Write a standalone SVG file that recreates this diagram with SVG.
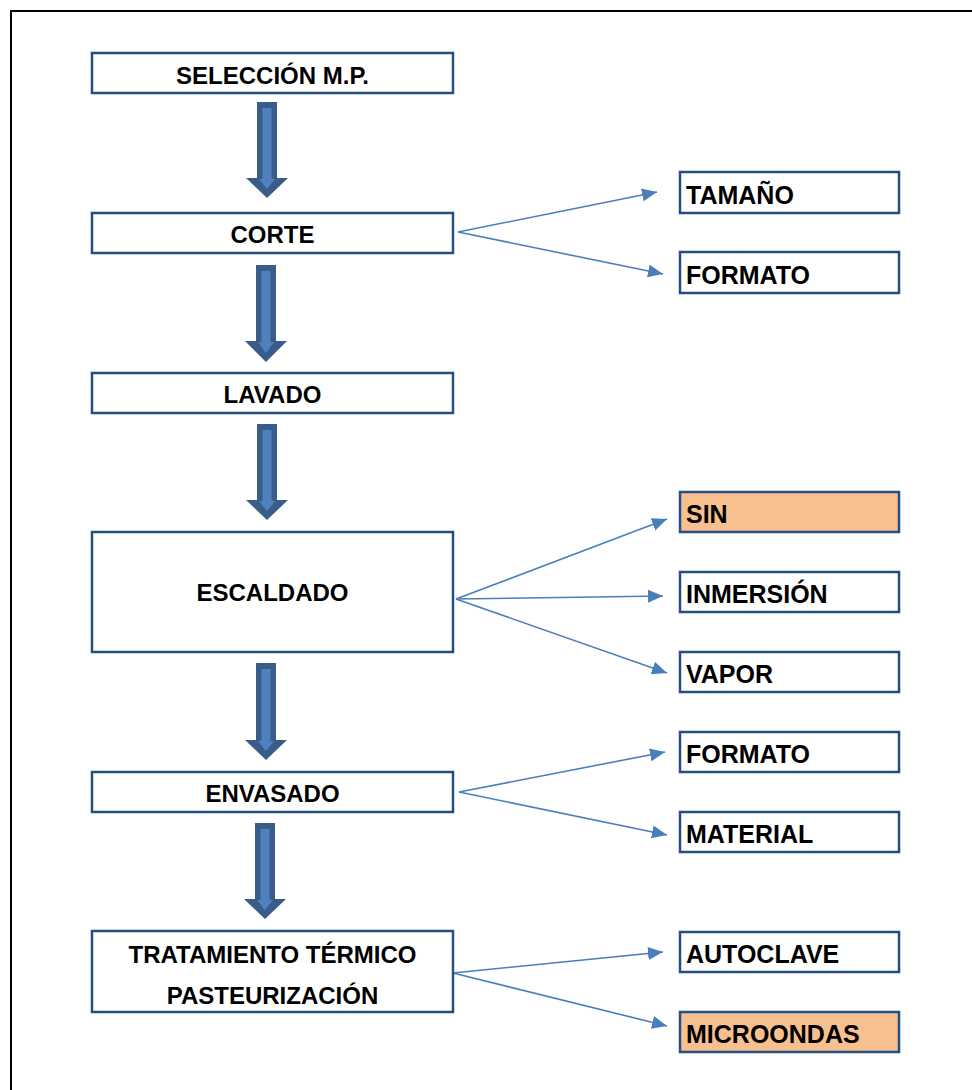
<svg xmlns="http://www.w3.org/2000/svg" width="972" height="1090" viewBox="0 0 972 1090">
<style>
.box{fill:#ffffff;stroke:#254f82;stroke-width:2.5}
.hl{fill:#f9c08f}
.t{font-family:"Liberation Sans",Arial,sans-serif;font-weight:bold;font-size:24px;fill:#000}
.c{text-anchor:middle}
.side{font-size:25px}
.conn{stroke:#4a7ebb;stroke-width:1.6;fill:none;marker-end:url(#ah)}
.ao{fill:#385d8a}
.ai{fill:#4f81bd}
</style>
<defs>
<marker id="ah" markerUnits="userSpaceOnUse" markerWidth="16" markerHeight="14" refX="15" refY="6.5" orient="auto">
<path d="M0,0 L15,6.5 L0,13 Z" fill="#4a7ebb"/>
</marker>
</defs>
<rect x="11" y="11" width="1000" height="1120" fill="none" stroke="#000" stroke-width="2"/>

<g id="block-arrows">
<g id="arrow1">
<polygon class="ao" points="257,102 277,102 277,178 288,178 267,198 246,178 257,178"/>
<polygon class="ai" points="262.5,108 271.5,108 271.5,179 275,179 267,189 259,179 262.5,179"/>
</g>
<g id="arrow2">
<polygon class="ao" points="256,265 276,265 276,341 287,341 266,362 245,341 256,341"/>
<polygon class="ai" points="261.5,271 270.5,271 270.5,342 274,342 266,353 258,342 261.5,342"/>
</g>
<g id="arrow3">
<polygon class="ao" points="257,424 277,424 277,500 288,500 267,520 246,500 257,500"/>
<polygon class="ai" points="262.5,430 271.5,430 271.5,501 275,501 267,511 259,501 262.5,501"/>
</g>
<g id="arrow4">
<polygon class="ao" points="256,663 276,663 276,740 287,740 266,760 245,740 256,740"/>
<polygon class="ai" points="261.5,669 270.5,669 270.5,741 274,741 266,751 258,741 261.5,741"/>
</g>
<g id="arrow5">
<polygon class="ao" points="255,823 275,823 275,899 286,899 265,919 244,899 255,899"/>
<polygon class="ai" points="260.5,829 269.5,829 269.5,900 273,900 265,910 257,900 260.5,900"/>
</g>
</g>

<g id="connectors">
<path class="conn" d="M458,232 L657,192"/>
<path class="conn" d="M458,232 L663,274"/>
<path class="conn" d="M456,599 L667,519"/>
<path class="conn" d="M456,599 L663,596"/>
<path class="conn" d="M456,599 L667,673"/>
<path class="conn" d="M459,792 L665,752"/>
<path class="conn" d="M459,792 L667,835"/>
<path class="conn" d="M453,973 L663,952"/>
<path class="conn" d="M453,973 L667,1026"/>
</g>

<g id="n-seleccion">
<rect class="box" x="92" y="53" width="361" height="40"/>
<text class="t c" x="272.5" y="84">SELECCIÓN M.P.</text>
</g>
<g id="n-corte">
<rect class="box" x="92" y="213" width="361" height="40"/>
<text class="t c" x="272.5" y="243">CORTE</text>
</g>
<g id="n-lavado">
<rect class="box" x="92" y="373" width="361" height="40"/>
<text class="t c" x="272.5" y="403">LAVADO</text>
</g>
<g id="n-escaldado">
<rect class="box" x="92" y="532" width="361" height="120"/>
<text class="t c" x="272.5" y="601">ESCALDADO</text>
</g>
<g id="n-envasado">
<rect class="box" x="92" y="772" width="361" height="40"/>
<text class="t c" x="272.5" y="802">ENVASADO</text>
</g>
<g id="n-tratamiento">
<rect class="box" x="92" y="931" width="361" height="81"/>
<text class="t c" x="272.5" y="963">TRATAMIENTO TÉRMICO</text>
<text class="t c" x="272.5" y="1004">PASTEURIZACIÓN</text>
</g>

<g id="n-tamano">
<rect class="box" x="680" y="172" width="219" height="41"/>
<text class="t side" x="686" y="204">TAMAÑO</text>
</g>
<g id="n-formato1">
<rect class="box" x="680" y="252" width="219" height="41"/>
<text class="t side" x="686" y="284">FORMATO</text>
</g>
<g id="n-sin">
<rect class="box hl" x="680" y="492" width="219" height="40"/>
<text class="t side" x="686" y="523">SIN</text>
</g>
<g id="n-inmersion">
<rect class="box" x="680" y="572" width="219" height="40"/>
<text class="t side" x="686" y="603">INMERSIÓN</text>
</g>
<g id="n-vapor">
<rect class="box" x="680" y="652" width="219" height="40"/>
<text class="t side" x="686" y="683">VAPOR</text>
</g>
<g id="n-formato2">
<rect class="box" x="680" y="732" width="219" height="40"/>
<text class="t side" x="686" y="763">FORMATO</text>
</g>
<g id="n-material">
<rect class="box" x="680" y="812" width="219" height="40"/>
<text class="t side" x="686" y="843">MATERIAL</text>
</g>
<g id="n-autoclave">
<rect class="box" x="680" y="932" width="219" height="40"/>
<text class="t side" x="686" y="963">AUTOCLAVE</text>
</g>
<g id="n-microondas">
<rect class="box hl" x="680" y="1012" width="219" height="40"/>
<text class="t side" x="686" y="1043">MICROONDAS</text>
</g>
</svg>
